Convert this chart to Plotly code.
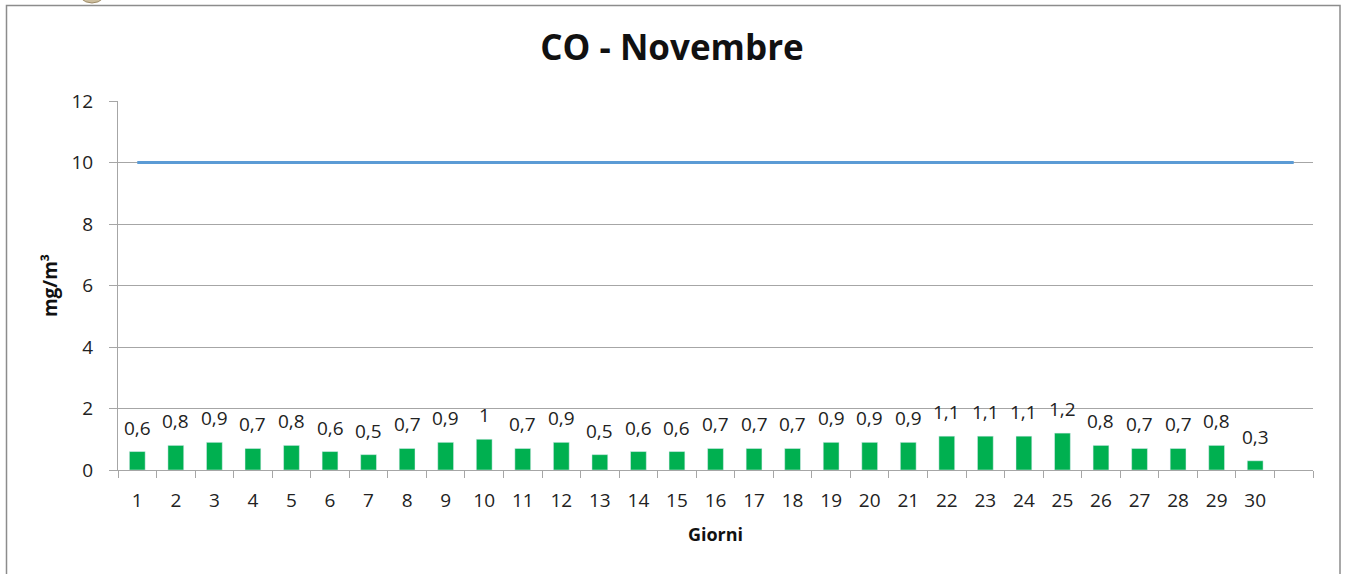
import plotly.graph_objects as go

giorni = [str(i) for i in range(1, 31)] + [" "]
valori = [0.6, 0.8, 0.9, 0.7, 0.8, 0.6, 0.5, 0.7, 0.9, 1.0,
          0.7, 0.9, 0.5, 0.6, 0.6, 0.7, 0.7, 0.7, 0.9, 0.9,
          0.9, 1.1, 1.1, 1.1, 1.2, 0.8, 0.7, 0.7, 0.8, 0.3]
limite = [10] * 31
y_ticks = [0, 2, 4, 6, 8, 10, 12]

def fmt(v):
    return ("%g" % v).replace(".", ",")

FONT = "Open Sans, Lato, sans-serif"
W, H = 1346, 574
L, R, T, B = 118, 33, 101, 104
pw = W - L - R
ph = H - T - B

def px_x(p):
    return (p - L) / pw

def px_y(p):
    return (H - B - p) / ph

fig = go.Figure()
fig.add_trace(go.Bar(
    x=giorni[:30], y=valori, marker_color="#00B050",
    showlegend=False, hoverinfo="x+y",
))
fig.add_trace(go.Scatter(
    x=giorni, y=limite, mode="lines",
    line=dict(color="#5B9BD5", width=3), showlegend=False,
))

# category axis: annotation x given as category index
annotations = [
    dict(x=i, y=v, xref="x", yref="y", text=fmt(v), showarrow=False,
         yanchor="bottom", yshift=9,
         font=dict(family=FONT, size=19, color="#222222"))
    for i, v in enumerate(valori)
]

fig.update_layout(
    width=W, height=H,
    margin=dict(l=L, r=R, t=T, b=B),
    paper_bgcolor="white", plot_bgcolor="white",
    bargap=0.59,
    title=dict(text="<b>CO - Novembre</b>", x=672 / W, xanchor="center",
               y=1 - 48 / H, yanchor="middle",
               font=dict(family=FONT, size=35, color="#111111")),
    font=dict(family=FONT, size=19, color="#222222"),
    xaxis=dict(
        type="category", categoryorder="array", categoryarray=giorni,
        range=[-0.5, 30.5],
        showline=True, linecolor="#A6A6A6", linewidth=1,
        ticks="outside", tickson="boundaries", ticklen=7, tickcolor="#A6A6A6",
        showgrid=False,
        tickfont=dict(family=FONT, size=19, color="#222222"),
        ticklabelstandoff=13,
        title=dict(text="<b>Giorni</b>", font=dict(family=FONT, size=18, color="#111111"),
                   standoff=16),
    ),
    yaxis=dict(
        range=[0, 12], tickvals=y_ticks,
        showline=True, linecolor="#A6A6A6", linewidth=1,
        showgrid=True, gridcolor="#A6A6A6", gridwidth=1,
        ticks="outside", ticklen=8, tickcolor="#A6A6A6",
        tickfont=dict(family=FONT, size=19, color="#222222"),
        ticklabelstandoff=12,
        zeroline=False,
        title=dict(text="<b>mg/m³</b>", font=dict(family=FONT, size=19, color="#111111"),
                   standoff=8),
    ),
    annotations=annotations,
    shapes=[
        dict(type="rect", xref="paper", yref="paper",
             x0=px_x(6.5), x1=px_x(1340), y0=px_y(600), y1=px_y(5.5),
             line=dict(color="#8C8C8C", width=1.5), fillcolor="rgba(0,0,0,0)", layer="below"),
        dict(type="circle", xref="paper", yref="paper",
             x0=px_x(76), x1=px_x(108), y0=px_y(3), y1=px_y(-29),
             line=dict(color="#9C8A66", width=1), fillcolor="#CDBE9E", layer="below"),
    ],
)

fig.write_html("out.html", config={"displayModeBar": False},
               post_script="document.body.style.margin='0';")
